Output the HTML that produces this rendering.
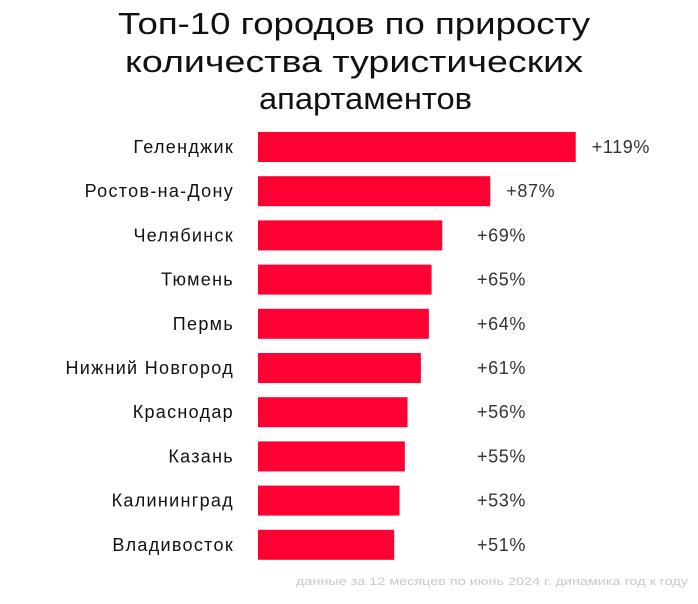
<!DOCTYPE html>
<html><head><meta charset="utf-8"><style>
body{margin:0;background:#fff;width:698px;height:599px;overflow:hidden;font-family:"Liberation Sans",sans-serif}
</style></head><body>
<svg width="698" height="599">
<text x="118" y="34" textLength="472" lengthAdjust="spacingAndGlyphs" font-size="31" fill="#111">Топ-10 городов по приросту</text>
<text x="125" y="72" textLength="458" lengthAdjust="spacingAndGlyphs" font-size="31" fill="#111">количества туристических</text>
<text x="259" y="109" textLength="213" lengthAdjust="spacingAndGlyphs" font-size="31" fill="#111">апартаментов</text>
<g id="bars"></g>
<text x="296" y="585" textLength="392" lengthAdjust="spacingAndGlyphs" font-size="11" fill="#c8c8c8">данные за 12 месяцев по июнь 2024 г. динамика год к году</text>
</svg>
<script>
const cities=["Геленджик","Ростов-на-Дону","Челябинск","Тюмень","Пермь","Нижний Новгород","Краснодар","Казань","Калининград","Владивосток"];
const growth=[119,87,69,65,64,61,56,55,53,51];
const x0=258, xScale=v=>v*2.67;
const yScale=i=>147+i*44.2;
const g=document.getElementById('bars');
const ns="http://www.w3.org/2000/svg";
cities.forEach((c,i)=>{
  const y=yScale(i), w=xScale(growth[i]);
  const r=document.createElementNS(ns,'rect');
  r.setAttribute('x',x0);r.setAttribute('y',y-15);r.setAttribute('width',w);r.setAttribute('height',30);r.setAttribute('fill','#ff0033');
  
  
  g.appendChild(r);
  const t=document.createElementNS(ns,'text');
  t.setAttribute('x',234);t.setAttribute('y',y+6);t.setAttribute('text-anchor','end');t.setAttribute('font-size','18');t.setAttribute('letter-spacing','1.3');t.setAttribute('fill','#111');
  t.textContent=c;
  
  
  g.appendChild(t);
  const v=document.createElementNS(ns,'text');
  v.setAttribute('x',Math.max(x0+w+16,477));v.setAttribute('y',y+6);v.setAttribute('font-size','18');v.setAttribute('letter-spacing','0.6');v.setAttribute('fill','#333');
  v.textContent='+'+growth[i]+'%';
  
  
  g.appendChild(v);
});
</script>
</body></html>
